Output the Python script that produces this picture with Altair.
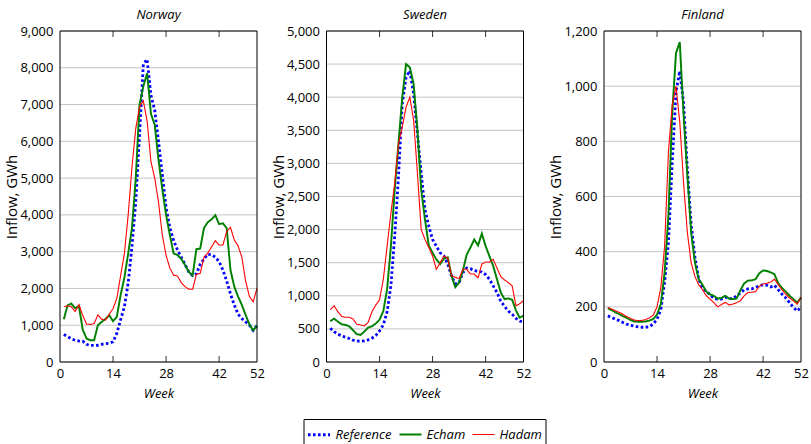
import altair as alt
import pandas as pd

weeks = list(range(1, 53))
series = ["Reference", "Echam", "Hadam"]
colors = ["#0000ff", "#008000", "#ff0000"]
x_ticks = [0, 14, 28, 42, 52]
inner_ticks = [14, 28, 42]

norway_reference = [745, 690, 630, 590, 570, 565, 480, 450, 450, 455, 480, 500, 510, 550, 780, 1150, 1500, 2150, 3150, 4350,
                    6200, 8100, 8230, 7250, 6850, 6000, 5100, 4200, 3650, 3300, 3050, 2850, 2650, 2450, 2350, 2400, 2650, 2800,
                    2930, 2920, 2850, 2730, 2500, 2200, 1850, 1550, 1300, 1180, 1090, 1000, 860, 990]
norway_echam = [1160, 1540, 1590, 1460, 1520, 880, 640, 590, 590, 1000, 1090, 1170, 1270, 1110, 1230, 1820, 2300, 2950, 3650,
                5000, 7000, 7500, 7850, 6750, 6450, 5500, 4700, 4000, 3450, 2950, 2910, 2800, 2640, 2450, 2350, 3070, 3080,
                3640, 3800, 3880, 3990, 3750, 3770, 3640, 2500, 2050, 1780, 1550, 1280, 1020, 860, 990]
norway_hadam = [1500, 1530, 1500, 1370, 1560, 1270, 1030, 1020, 1045, 1280, 1160, 1140, 1300, 1450, 1730, 2350, 2950, 4000,
                5300, 6350, 6950, 7100, 6550, 5450, 5000, 4350, 3450, 2900, 2550, 2360, 2340, 2160, 2050, 1980, 1980, 2380,
                2410, 2850, 2960, 3130, 3300, 3180, 3180, 3550, 3660, 3320, 3160, 2850, 2200, 1780, 1640, 2000]

sweden_reference = [510, 460, 420, 395, 375, 355, 330, 318, 312, 318, 335, 360, 400, 470, 560, 760, 1150, 1900, 2800, 3900,
                    4300, 4400, 4050, 3450, 2850, 2300, 2050, 1850, 1750, 1650, 1600, 1480, 1300, 1180, 1200, 1350, 1420,
                    1410, 1380, 1370, 1360, 1320, 1250, 1150, 1050, 920, 840, 770, 720, 660, 620, 600]
sweden_echam = [615, 655, 610, 570, 560, 540, 480, 420, 410, 460, 520, 540, 580, 640, 770, 1100, 1750, 2600, 3300, 4000,
                4500, 4450, 4200, 3500, 2600, 2150, 1760, 1650, 1550, 1480, 1560, 1580, 1300, 1130, 1200, 1380, 1620, 1730,
                1850, 1760, 1940, 1750, 1600, 1450, 1250, 1050, 950, 960, 940, 780, 670, 700]
sweden_hadam = [790, 850, 760, 690, 675, 675, 650, 570, 560, 545, 600, 760, 860, 940, 1250, 1750, 2250, 2700, 3300, 3550,
                3850, 4000, 3650, 2850, 2000, 1850, 1730, 1600, 1400, 1500, 1600, 1570, 1300, 1280, 1260, 1400, 1400, 1330,
                1330, 1270, 1480, 1510, 1510, 1550, 1420, 1290, 1240, 1200, 1150, 850, 880, 930]

finland_reference = [167, 162, 155, 150, 143, 137, 133, 130, 127, 126, 126, 128, 138, 155, 190, 290, 430, 720, 980, 1055,
                     940, 700, 500, 380, 300, 270, 255, 245, 230, 228, 228, 235, 230, 230, 240, 250, 262, 265, 265, 270,
                     277, 280, 278, 272, 278, 262, 246, 232, 215, 198, 185, 198]
finland_echam = [195, 188, 180, 174, 166, 160, 152, 147, 146, 146, 147, 150, 156, 172, 210, 325, 530, 900, 1120, 1160,
                 900, 680, 470, 360, 300, 280, 255, 245, 240, 230, 232, 240, 230, 228, 230, 260, 285, 295, 296, 300,
                 322, 332, 330, 325, 318, 285, 268, 255, 240, 228, 215, 234]
finland_hadam = [198, 192, 186, 180, 173, 165, 158, 152, 150, 151, 154, 160, 170, 200, 270, 420, 760, 930, 1000, 870,
                 650, 470, 360, 310, 280, 262, 240, 228, 215, 200, 208, 216, 207, 210, 215, 222, 240, 252, 253, 255,
                 275, 283, 285, 290, 300, 280, 262, 245, 232, 222, 210, 234]

FONT = "Open Sans"
W, H = 197, 331


def panel(name, ref, ech, had, ymax, ystep, show_legend, extra=0):
    df = pd.DataFrame({
        "Week": weeks * 3,
        "Inflow": ref + ech + had,
        "Series": [s for s in series for _ in weeks],
    })
    yvals = list(range(0, ymax + 1, ystep))
    xscale = alt.Scale(domain=[0, 52], nice=False, zero=False, range=[0, W])
    xaxis = alt.Axis(values=x_ticks, title="Week", titleFontStyle="italic", grid=False,
                     ticks=False, domain=False, labelPadding=5, titlePadding=7,
                     labelFontSize=13, titleFontSize=13, labelFlush=False,
                     titleFontWeight="normal", format="d")
    yscale = alt.Scale(domain=[0, ymax], nice=False)
    yaxis = alt.Axis(values=yvals, format=",.0f", title="Inflow, GWh",
                     grid=False, ticks=False, domain=False, labelPadding=7, titlePadding=0,
                     labelFontSize=13, titleFontSize=15, titleFontWeight="normal")
    x = alt.X("Week:Q", scale=xscale, axis=xaxis)
    y = alt.Y("Inflow:Q", scale=yscale, axis=yaxis)
    if show_legend:
        leg = alt.Legend(orient="none", legendX=-23, legendY=388, direction="horizontal", title=None,
                         strokeColor="black", fillColor="white", padding=3, symbolType="stroke",
                         symbolSize=484, labelFontSize=13, labelFont=FONT, labelFontStyle="italic",
                         labelColor="black", columnPadding=4, labelOffset=4, cornerRadius=0)
    else:
        leg = None

    grid_df = pd.DataFrame({"Inflow": yvals})
    grid = alt.Chart(grid_df).mark_rule(color="#c4c4c4", strokeWidth=1).encode(
        y=y, x=alt.value(0), x2=alt.value(W))

    lines = alt.Chart(df).mark_line(strokeCap="butt").encode(
        x=x, y=y,
        color=alt.Color("Series:N", scale=alt.Scale(domain=series, range=colors), legend=leg),
        strokeDash=alt.StrokeDash("Series:N", scale=alt.Scale(domain=series, range=[[2.6, 2.4], [1, 0], [1, 0]]),
                                  legend=leg),
        strokeWidth=alt.StrokeWidth("Series:N", scale=alt.Scale(domain=series, range=[2.8, 1.1, 1.1]),
                                    legend=leg),
    )
    tick_df = pd.DataFrame({"Week": inner_ticks})
    top_ticks = alt.Chart(tick_df).mark_rule(color="#333333", strokeWidth=1).encode(
        x=x, y=alt.value(0), y2=alt.value(6))
    bottom_ticks = alt.Chart(tick_df).mark_rule(color="#333333", strokeWidth=1).encode(
        x=x, y=alt.value(H), y2=alt.value(H - 6))
    frame = alt.Chart(pd.DataFrame({"f": [0]})).mark_rect(
        fillOpacity=0, stroke="black", strokeWidth=1).encode(
        x=alt.value(0), x2=alt.value(W), y=alt.value(0), y2=alt.value(H))
    return alt.layer(grid, lines, top_ticks, bottom_ticks, frame).properties(
        width=W + extra, height=H,
        title=alt.TitleParams(name, fontStyle="italic", fontSize=13, font=FONT, fontWeight="normal",
                              offset=3, color="black", dx=-extra / 2))


nor = panel("Norway", norway_reference, norway_echam, norway_hadam, 9000, 1000, False)
swe = panel("Sweden", sweden_reference, sweden_echam, sweden_hadam, 5000, 500, True, extra=11)
fin = panel("Finland", finland_reference, finland_echam, finland_hadam, 1200, 200, False)

chart = alt.hconcat(nor, swe, fin, spacing=69.5, bounds="flush").resolve_scale(
    color="independent", strokeDash="independent", strokeWidth="independent",
    x="independent", y="independent"
).properties(
    padding={"left": 4, "top": 9, "right": 0, "bottom": 0}
).configure(font=FONT).configure_view(
    stroke=None
).configure_axis(
    labelFont=FONT, titleFont=FONT, labelColor="black", titleColor="black"
).configure_legend(
    labelFontSize=13, labelFont=FONT, labelFontStyle="italic"
).configure_title(font=FONT)

chart.save("out.html", embed_options={"renderer": "svg", "actions": False})
